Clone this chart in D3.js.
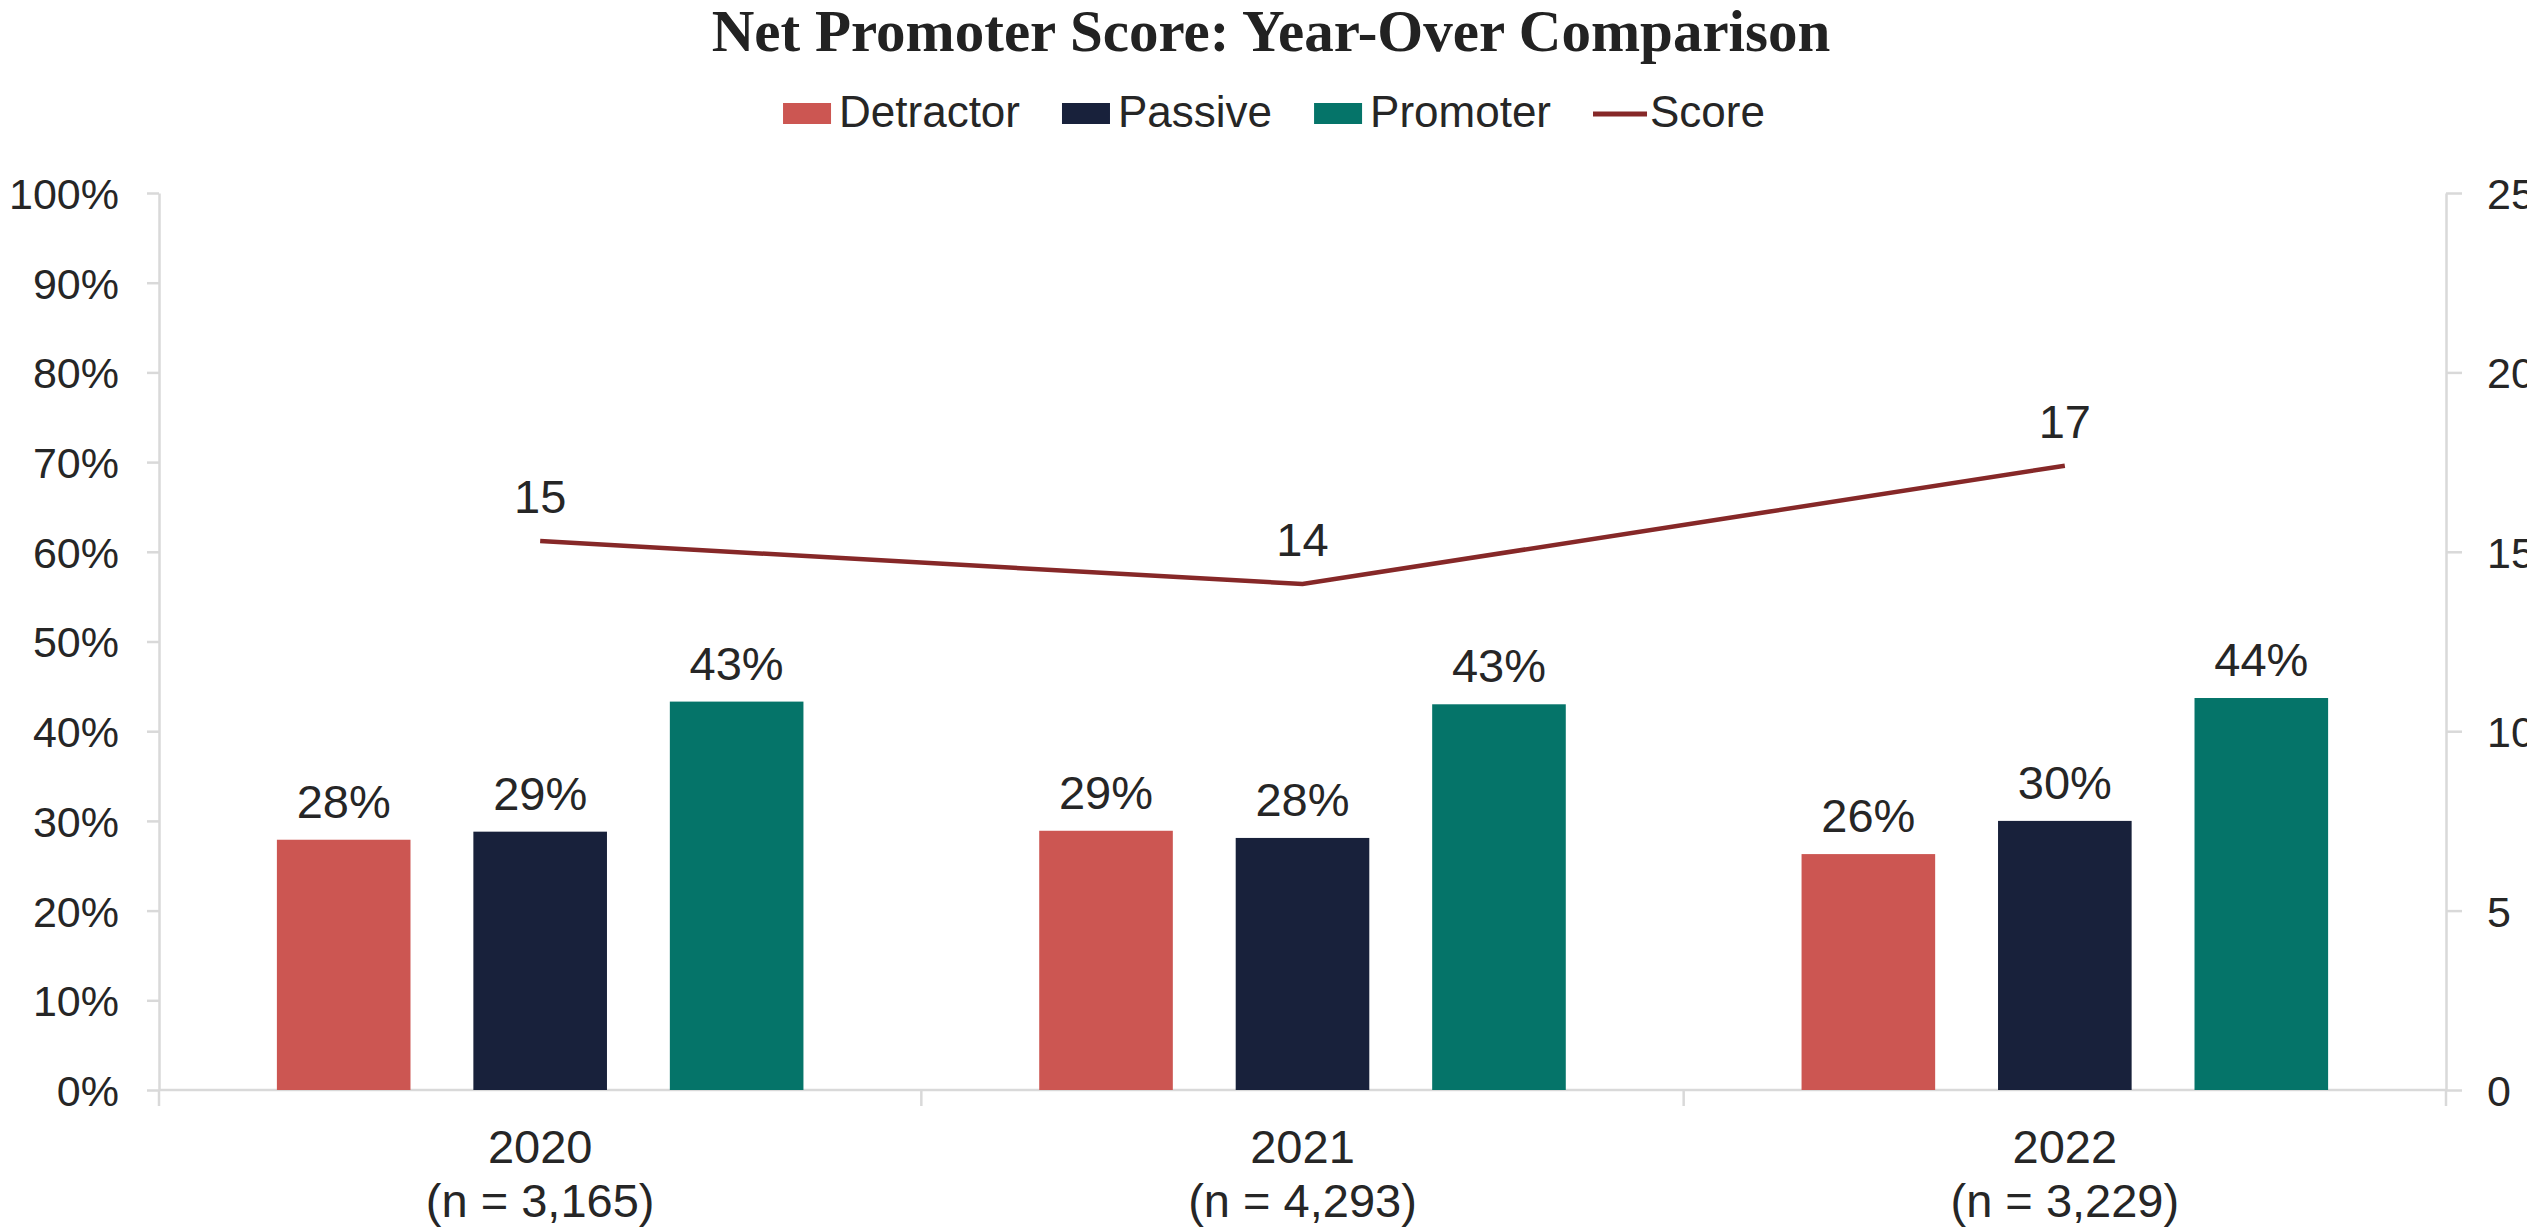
<!DOCTYPE html>
<html>
<head>
<meta charset="utf-8">
<script src="https://cdn.jsdelivr.net/npm/d3@7"></script>
<style>
    body { margin: 0; background: #fff; }
    svg text { font-family: "Liberation Sans", Arial, sans-serif; fill: #262626; }
    .axis path, .axis line { stroke: #d9d9d9; stroke-width: 2.5; }
    .axis text { font-size: 43px; fill: #262626; }
</style>
</head>
<body>
<svg id="npsChart" width="2527" height="1230"></svg>
<script>

// DATA
var years = ["2020", "2021", "2022"];
var sampleSizes = ["3,165", "4,293", "3,229"];
var seriesNames = ["Detractor", "Passive", "Promoter"];
var detractor = [27.9, 28.9, 26.3];
var passive = [28.8, 28.1, 30.0];
var promoter = [43.3, 43.0, 43.7];
var score = [15.3, 14.1, 17.4];
var leftTicks = [0, 10, 20, 30, 40, 50, 60, 70, 80, 90, 100];
var rightTicks = [0, 5, 10, 15, 20, 25];

var colors = { "Detractor": "#cc5652", "Passive": "#18213b", "Promoter": "#057469", "Score": "#862828" };

var svg = d3.select("svg#npsChart"),
    margin = { top: 193, right: 81, bottom: 140, left: 159 },
    width = +svg.attr("width") - margin.left - margin.right,
    height = +svg.attr("height") - margin.top - margin.bottom;

var x0 = d3.scaleBand().domain(years).range([0, width]).padding(0),
    x1 = d3.scaleBand().domain(seriesNames).range([0, x0.bandwidth()]).paddingInner(0.32).paddingOuter(0.6),
    yLeft = d3.scaleLinear().domain([0, 100]).range([height, 0]),
    yRight = d3.scaleLinear().domain([0, 25]).range([height, 0]);

var rows = years.map(function (y, i) {
    return {
        year: y,
        n: sampleSizes[i],
        values: [
            { key: "Detractor", value: detractor[i] },
            { key: "Passive", value: passive[i] },
            { key: "Promoter", value: promoter[i] }
        ],
        score: score[i]
    };
});

var g = svg.append("g")
    .attr("transform", "translate(" + margin.left + "," + margin.top + ")");

// title
svg.append("text")
    .attr("x", 1271)
    .attr("y", 51)
    .attr("text-anchor", "middle")
    .style("font-family", "'Liberation Serif', 'Times New Roman', serif")
    .style("font-weight", "bold")
    .style("font-size", "59px")
    .style("fill", "#222")
    .text("Net Promoter Score: Year-Over Comparison");

// AXES
g.append("g")
    .attr("class", "axis axis--left")
    .call(d3.axisLeft(yLeft).tickValues(leftTicks).tickSize(12).tickSizeOuter(0).tickPadding(28)
        .tickFormat(function (d) { return d + "%"; }));

g.append("g")
    .attr("class", "axis axis--right")
    .attr("transform", "translate(" + width + ",0)")
    .call(d3.axisRight(yRight).tickValues(rightTicks).tickSize(16).tickSizeOuter(0).tickPadding(25));

g.selectAll(".axis--left .tick text, .axis--right .tick text").attr("dy", "0.36em");

// category axis, ticks sit between the groups
var xAxis = g.append("g")
    .attr("class", "axis axis--x")
    .attr("transform", "translate(0," + height + ")");

xAxis.append("line")
    .attr("x1", 0)
    .attr("x2", width)
    .attr("y1", 0)
    .attr("y2", 0);

var bounds = years.map(function (d) { return x0(d); }).concat([width]);
xAxis.selectAll(".cat-tick")
    .data(bounds)
    .enter()
    .append("line")
    .attr("class", "cat-tick")
    .attr("x1", function (d) { return d; })
    .attr("x2", function (d) { return d; })
    .attr("y1", 0)
    .attr("y2", 16);

var catLabels = xAxis.selectAll(".cat-label")
    .data(rows)
    .enter()
    .append("text")
    .attr("class", "cat-label")
    .attr("text-anchor", "middle")
    .style("font-size", "47px")
    .attr("transform", function (d) { return "translate(" + (x0(d.year) + x0.bandwidth() / 2) + ",0)"; });

catLabels.append("tspan").attr("x", 0).attr("y", 73).text(function (d) { return d.year; });
catLabels.append("tspan").attr("x", 0).attr("y", 127).text(function (d) { return "(n = " + d.n + ")"; });

// BARS
var groups = g.selectAll(".year")
    .data(rows)
    .enter()
    .append("g")
    .attr("class", "year")
    .attr("transform", function (d) { return "translate(" + x0(d.year) + ",0)"; });

groups.selectAll("rect")
    .data(function (d) { return d.values; })
    .enter()
    .append("rect")
    .attr("x", function (d) { return x1(d.key); })
    .attr("y", function (d) { return yLeft(d.value); })
    .attr("width", x1.bandwidth())
    .attr("height", function (d) { return height - yLeft(d.value); })
    .attr("fill", function (d) { return colors[d.key]; });

groups.selectAll(".bar-label")
    .data(function (d) { return d.values; })
    .enter()
    .append("text")
    .attr("class", "bar-label")
    .attr("x", function (d) { return x1(d.key) + x1.bandwidth() / 2; })
    .attr("y", function (d) { return yLeft(d.value) - 22; })
    .attr("text-anchor", "middle")
    .style("font-size", "47px")
    .text(function (d) { return Math.round(d.value) + "%"; });

// SCORE LINE
var line = d3.line()
    .x(function (d) { return x0(d.year) + x0.bandwidth() / 2; })
    .y(function (d) { return yRight(d.score); });

g.append("path")
    .datum(rows)
    .attr("fill", "none")
    .attr("stroke", colors.Score)
    .attr("stroke-width", 4.5)
    .attr("d", line);

g.selectAll(".score-label")
    .data(rows)
    .enter()
    .append("text")
    .attr("class", "score-label")
    .attr("x", function (d) { return x0(d.year) + x0.bandwidth() / 2; })
    .attr("y", function (d) { return yRight(d.score) - 28; })
    .attr("text-anchor", "middle")
    .style("font-size", "47px")
    .text(function (d) { return Math.round(d.score); });

// LEGEND
var legendKeys = seriesNames.concat(["Score"]);
var legend = svg.append("g").attr("class", "legend");

var cursor = 0;
legendKeys.forEach(function (k, i) {
    var item = legend.append("g").attr("transform", "translate(" + cursor + ",0)");
    var swatchW = k === "Score" ? 54 : 48;
    if (k === "Score") {
        item.append("line")
            .attr("x1", 0).attr("x2", swatchW)
            .attr("y1", 114).attr("y2", 114)
            .attr("stroke", colors[k])
            .attr("stroke-width", 5);
    } else {
        item.append("rect")
            .attr("x", 0).attr("y", 103)
            .attr("width", swatchW).attr("height", 21)
            .attr("fill", colors[k]);
    }
    var t = item.append("text")
        .attr("x", swatchW + (k === "Score" ? 3 : 8))
        .attr("y", 127)
        .style("font-size", "44px")
        .text(k);
    cursor += swatchW + (k === "Score" ? 3 : 8) + t.node().getComputedTextLength() + 42;
});

var legendW = cursor - 42;
legend.attr("transform", "translate(" + (1274 - legendW / 2) + ",0)");

</script>
</body>
</html>
